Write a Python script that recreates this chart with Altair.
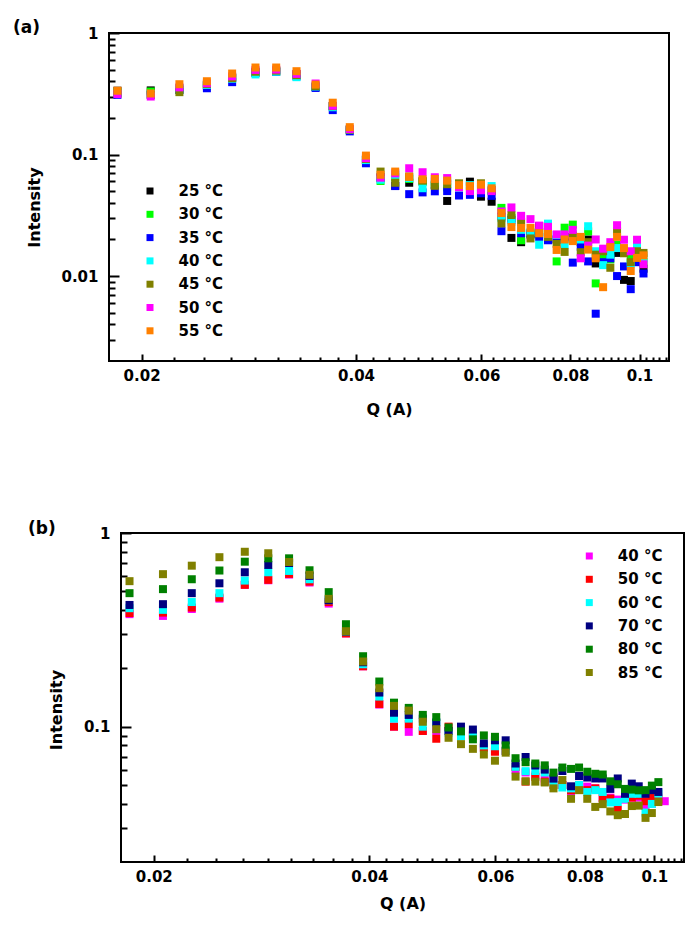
import altair as alt
import pandas as pd

FONT = "DejaVu Sans"

# scattering vector grid (shared by both panels)
Q = [0.0185, 0.0206, 0.0226, 0.0247, 0.0268, 0.0289, 0.0309, 0.0330, 0.0351, 0.0371,
     0.0392, 0.0413, 0.0433, 0.0454, 0.0475, 0.0496, 0.0516, 0.0537, 0.0558, 0.0578,
     0.0599, 0.0620, 0.0640, 0.0661, 0.0682, 0.0703, 0.0723, 0.0744, 0.0765, 0.0785,
     0.0806, 0.0827, 0.0847, 0.0868, 0.0889, 0.0910, 0.0930, 0.0951, 0.0972, 0.0992,
     0.1013, 0.1034]

# ---------------- panel (a) ----------------
A_TEMPS = ["25 °C", "30 °C", "35 °C", "40 °C", "45 °C", "50 °C", "55 °C"]
A_COLORS = ["#000000", "#00ff00", "#0000ff", "#00ffff", "#808000", "#ff00ff", "#ff8000"]
A_25 = [0.335, 0.337, 0.35, 0.37, 0.43, 0.48, 0.49, 0.46, 0.36, 0.25, 0.16, 0.09, 0.065,
        0.0553, 0.0586, 0.06, 0.056, 0.0415, 0.055, 0.0598, 0.045, 0.0409, 0.031, 0.0206,
        0.019, 0.0225, 0.0257, 0.022, 0.02, 0.021, 0.021, 0.019, 0.02, 0.0127, 0.015,
        0.0153, 0.0155, 0.0093, 0.0091, 0.014, 0.0115]
A_30 = [0.325, 0.33, 0.34, 0.375, 0.43, 0.47, 0.48, 0.45, 0.36, 0.25, 0.16, 0.09, 0.0606,
        0.065, 0.063, 0.06, 0.057, 0.0536, 0.055, 0.055, 0.052, 0.05, 0.0364, 0.03,
        0.0197, 0.022, 0.022, 0.023, 0.0132, 0.025, 0.0265, 0.02, 0.0233, 0.0087, 0.0143,
        0.0137, 0.018, 0.016, 0.014, 0.017, 0.013]
A_35 = [0.31, 0.31, 0.34, 0.351, 0.394, 0.47, 0.479, 0.44, 0.353, 0.232, 0.155, 0.0847,
        0.064, 0.055, 0.0472, 0.0488, 0.0498, 0.05, 0.046, 0.0466, 0.048, 0.0457, 0.0234,
        0.029, 0.0225, 0.022, 0.021, 0.0197, 0.02, 0.0204, 0.0129, 0.0174, 0.0132, 0.0049,
        0.013, 0.014, 0.01, 0.012, 0.0078, 0.013, 0.0105]
A_40 = [0.32, 0.315, 0.35, 0.374, 0.42, 0.456, 0.48, 0.433, 0.363, 0.245, 0.16, 0.09, 0.062,
        0.068, 0.064, 0.0528, 0.06, 0.0586, 0.055, 0.056, 0.054, 0.055, 0.03, 0.028, 0.024,
        0.023, 0.0181, 0.027, 0.0218, 0.0182, 0.022, 0.02, 0.0257, 0.016, 0.0123, 0.015,
        0.017, 0.016, 0.0127, 0.018, 0.014]
A_45 = [0.32, 0.31, 0.326, 0.38, 0.425, 0.48, 0.49, 0.45, 0.365, 0.25, 0.16, 0.092, 0.0724,
        0.0586, 0.066, 0.061, 0.0553, 0.057, 0.058, 0.054, 0.058, 0.051, 0.0271, 0.0318,
        0.0278, 0.0204, 0.023, 0.021, 0.0184, 0.0158, 0.0214, 0.0157, 0.019, 0.015, 0.016,
        0.0117, 0.0233, 0.0154, 0.013, 0.016, 0.0155]
A_50 = [0.315, 0.30, 0.357, 0.386, 0.44, 0.497, 0.50, 0.461, 0.384, 0.252, 0.162, 0.0934,
        0.0645, 0.07, 0.0771, 0.0715, 0.065, 0.064, 0.054, 0.05, 0.0508, 0.05, 0.034,
        0.0367, 0.0313, 0.0294, 0.026, 0.0254, 0.022, 0.022, 0.024, 0.014, 0.0178, 0.02,
        0.0168, 0.019, 0.0262, 0.0199, 0.016, 0.0199, 0.0125]
A_55 = [0.335, 0.318, 0.379, 0.401, 0.464, 0.52, 0.52, 0.485, 0.376, 0.267, 0.168, 0.098,
        0.0682, 0.0724, 0.0655, 0.0625, 0.063, 0.061, 0.056, 0.055, 0.0565, 0.0527, 0.033,
        0.0253, 0.0249, 0.0249, 0.0225, 0.0222, 0.0164, 0.02, 0.0194, 0.021, 0.0165, 0.014,
        0.0081, 0.0173, 0.021, 0.017, 0.011, 0.0141, 0.0148]
A_SERIES = [A_25, A_30, A_35, A_40, A_45, A_50, A_55]

# ---------------- panel (b) ----------------
B_TEMPS = ["40 °C", "50 °C", "60 °C", "70 °C", "80 °C", "85 °C"]
B_COLORS = ["#ff00ff", "#ff0000", "#00ffff", "#000080", "#008000", "#808000"]
B_40 = [0.381, 0.373, 0.405, 0.458, 0.54, 0.57, 0.61, 0.555, 0.432, 0.303, 0.205, 0.13, 0.1,
        0.094, 0.095, 0.095, 0.095, 0.09, 0.09, 0.078, 0.075, 0.075, 0.06, 0.058, 0.056,
        0.054, 0.055, 0.05, 0.046, 0.05, 0.049, 0.048, 0.043, 0.043, 0.042, 0.042, 0.043,
        0.043, 0.0389, 0.04, 0.043, 0.0412]
B_50 = [0.386, 0.388, 0.412, 0.464, 0.54, 0.573, 0.615, 0.561, 0.44, 0.303, 0.205, 0.131,
        0.1, 0.103, 0.095, 0.0866, 0.1, 0.09, 0.09, 0.078, 0.0742, 0.075, 0.062, 0.052,
        0.055, 0.052, 0.05, 0.05, 0.047, 0.05, 0.047, 0.048, 0.0426, 0.0425, 0.0373, 0.043,
        0.043, 0.044, 0.0412, 0.043, 0.042]
B_60 = [0.409, 0.401, 0.44, 0.489, 0.568, 0.627, 0.637, 0.577, 0.45, 0.31, 0.21, 0.143, 0.11,
        0.11, 0.1, 0.105, 0.093, 0.089, 0.092, 0.08, 0.0792, 0.075, 0.062, 0.0589, 0.059,
        0.058, 0.051, 0.0485, 0.048, 0.05, 0.046, 0.047, 0.046, 0.0406, 0.0408, 0.0424,
        0.045, 0.045, 0.036, 0.0399, 0.0451]
B_70 = [0.425, 0.429, 0.489, 0.55, 0.627, 0.684, 0.70, 0.60, 0.45, 0.31, 0.215, 0.15, 0.118,
        0.115, 0.11, 0.105, 0.095, 0.1, 0.0966, 0.082, 0.085, 0.085, 0.0645, 0.0697, 0.063,
        0.06, 0.0539, 0.059, 0.0492, 0.0556, 0.0546, 0.054, 0.054, 0.0477, 0.054, 0.045,
        0.0508, 0.0492, 0.045, 0.047, 0.046]
B_80 = [0.489, 0.513, 0.577, 0.64, 0.711, 0.74, 0.74, 0.642, 0.495, 0.338, 0.231, 0.171,
        0.133, 0.125, 0.115, 0.112, 0.099, 0.0945, 0.086, 0.0901, 0.0886, 0.08, 0.0687,
        0.0655, 0.0645, 0.0631, 0.0579, 0.0615, 0.0605, 0.0615, 0.0585, 0.0571, 0.0566,
        0.0522, 0.0504, 0.0477, 0.0473, 0.0469, 0.047, 0.0496, 0.0517]
B_85 = [0.564, 0.613, 0.678, 0.75, 0.80, 0.786, 0.708, 0.608, 0.457, 0.311, 0.217, 0.158,
        0.128, 0.121, 0.106, 0.097, 0.0876, 0.0812, 0.0768, 0.0718, 0.0667, 0.0734, 0.0552,
        0.0522, 0.052, 0.0515, 0.048, 0.053, 0.0424, 0.047, 0.0424, 0.0385, 0.0398, 0.0365,
        0.0349, 0.0354, 0.0389, 0.0391, 0.0338, 0.0358, 0.0408]
B_SERIES = [B_40, B_50, B_60, B_70, B_80, B_85]

# axis tick values
X_DOMAIN = [0.018, 0.11]
X_MAJOR = [0.02, 0.04, 0.06, 0.08, 0.1]
X_MINOR = [round(0.02 + k * 0.02 / 9, 5) for k in range(1, 41) if k % 9 != 0]
A_Y_DOMAIN = [0.002, 1]
A_Y_MAJOR = [0.01, 0.1, 1]
A_Y_MINOR = [round(m * 10.0 ** e, 4) for e in (-3, -2, -1) for m in range(2, 10)
             if m * 10.0 ** e > 0.0025]
B_Y_DOMAIN = [0.02, 1]
B_Y_MAJOR = [0.1, 1]
B_Y_MINOR = [round(m * 10.0 ** e, 4) for e in (-2, -1) for m in range(2, 10)
             if m * 10.0 ** e > 0.025]


def make_df(temps, series):
    rows = []
    for k, (t, vals) in enumerate(zip(temps, series)):
        for q, v in zip(Q, vals):
            rows.append({"Q": q, "I": v, "T": t, "k": k})
    return pd.DataFrame(rows)


def panel(df, temps, colors, ydom, ymaj, ymin, w, h, shift, legx, legy, tag, tagx, tagy,
          xtitle_pad, ytitle_pad, ytitle_drop):
    # 'shift' moves the plot frame right inside its cell (panel b sits further right)
    total_w = w + shift
    xs = alt.Scale(type="log", domain=X_DOMAIN, nice=False, range=[shift, total_w])
    ys = alt.Scale(type="log", domain=ydom, nice=False)
    common = dict(domain=False, grid=False, labelFlush=False, labelOverlap=False,
                  tickColor="black", tickWidth=2)
    x_major = alt.Axis(orient="bottom", values=X_MAJOR, format="~g", title="Q (A)",
                       tickSize=7, offset=-7, labelPadding=7, titlePadding=xtitle_pad,
                       **common)
    x_minor = alt.Axis(orient="bottom", values=X_MINOR, labels=False, title=None,
                       tickSize=4, offset=-4, **common)
    y_major = alt.Axis(orient="left", values=ymaj, format="~g", title="Intensity",
                       tickSize=10, offset=-(10 + shift), labelPadding=11,
                       titlePadding=ytitle_pad, titleY=h / 2 + ytitle_drop, **common)
    y_minor = alt.Axis(orient="left", values=ymin, labels=False, title=None,
                       tickSize=6, offset=-(6 + shift), **common)
    legend = alt.Legend(title=None, orient="none", legendX=legx + shift, legendY=legy,
                        symbolType="square", symbolSize=49, symbolStrokeWidth=0,
                        symbolOpacity=1, labelFont=FONT, labelFontSize=15,
                        labelFontWeight="bold", labelColor="black", labelOffset=21,
                        rowPadding=7.3, padding=0)
    pts = alt.Chart(df).mark_square(size=64, opacity=1, strokeWidth=0).encode(
        x=alt.X("Q:Q", scale=xs, axis=x_major),
        y=alt.Y("I:Q", scale=ys, axis=y_major),
        color=alt.Color("T:N", scale=alt.Scale(domain=temps, range=colors), legend=legend),
        order=alt.Order("k:Q"),
    )
    ticks = alt.Chart(df).mark_square(opacity=0).encode(
        x=alt.X("Q:Q", scale=xs, axis=x_minor),
        y=alt.Y("I:Q", scale=ys, axis=y_minor),
    )
    tag_df = pd.DataFrame({"t": [tag]})
    frame = alt.Chart(tag_df).mark_rect(filled=False, stroke="black", strokeWidth=2).encode(
        x=alt.value(shift), x2=alt.value(total_w), y=alt.value(0), y2=alt.value(h))
    label = alt.Chart(tag_df).mark_text(
        align="left", baseline="middle", font=FONT, fontSize=17, fontWeight="bold",
        color="black").encode(x=alt.value(tagx + shift), y=alt.value(tagy), text="t:N")
    return alt.layer(pts, ticks, frame, label).resolve_axis(
        x="independent", y="independent").properties(width=total_w, height=h)


panel_a = panel(make_df(A_TEMPS, A_SERIES), A_TEMPS, A_COLORS, A_Y_DOMAIN, A_Y_MAJOR,
                A_Y_MINOR, 560, 328, 0, 33.5, 150.5, "(a)", -96, -5, 18, 18, 10)
panel_b = panel(make_df(B_TEMPS, B_SERIES), B_TEMPS, B_COLORS, B_Y_DOMAIN, B_Y_MAJOR,
                B_Y_MINOR, 563, 329, 12, 460.8, 15.5, "(b)", -93, -4, 11, 19, 12)

chart = alt.ConcatChart(
    concat=[panel_a, panel_b], columns=1, spacing=101, align="none", bounds="full"
).resolve_scale(color="independent").properties(
    padding={"left": 4, "top": 10, "right": 5, "bottom": 5}
).configure_view(stroke="transparent").configure_axis(
    labelFont=FONT, labelFontSize=15, labelFontWeight="bold", labelColor="black",
    titleFont=FONT, titleFontSize=16, titleFontWeight="bold", titleColor="black"
)

chart.save("out.html", embed_options={"renderer": "svg", "actions": False})
